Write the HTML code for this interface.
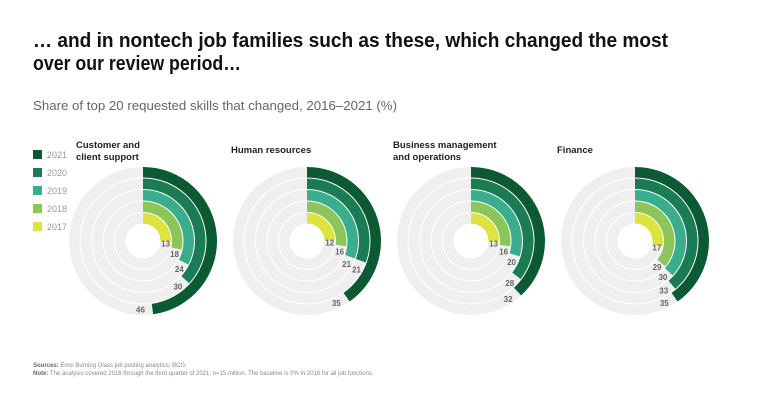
<!DOCTYPE html>
<html><head><meta charset="utf-8"><style>
html,body{margin:0;padding:0;background:#fff;}
svg{display:block;font-family:"Liberation Sans",sans-serif;}
</style></head><body>
<svg id="chart" width="768" height="403" viewBox="0 0 768 403">
<text x="33" y="47" font-size="20" font-weight="bold" fill="#111" textLength="635" lengthAdjust="spacingAndGlyphs">… and in nontech job families such as these, which changed the most</text>
<text x="33" y="70" font-size="20" font-weight="bold" fill="#111" textLength="208" lengthAdjust="spacingAndGlyphs">over our review period…</text>
<text x="33" y="110" font-size="13" fill="#666" textLength="364" lengthAdjust="spacingAndGlyphs">Share of top 20 requested skills that changed, 2016–2021 (%)</text>
<g id="legend"></g>
<g id="panels"></g>
<text x="33" y="367" font-size="6" fill="#888"><tspan font-weight="bold" fill="#666">Sources:</tspan> Emsi Burning Glass job posting analytics; BCG.</text>
<text x="33" y="375" font-size="6" fill="#888"><tspan font-weight="bold" fill="#666">Note:</tspan> The analysis covered 2016 through the third quarter of 2021; n=15 million. The baseline is 0% in 2016 for all job functions.</text>
</svg>
<script>
const years = ["2021","2020","2019","2018","2017"];
const colors = ["#0b5a34","#1b7b55","#3aae8c","#8cc65a","#dde33f"];
const categories = ["Customer and|client support","Human resources","Business management|and operations","Finance"];
// values ordered 2017..2021
const customerValues = [13,18,24,30,46];
const hrValues = [12,16,21,21,35];
const businessValues = [13,16,20,28,32];
const financeValues = [17,29,30,33,35];
const series = [customerValues, hrValues, businessValues, financeValues];

const NS = "http://www.w3.org/2000/svg";
const svg = document.getElementById("chart");
const legend = document.getElementById("legend");
const panels = document.getElementById("panels");
function mk(tag, attrs, parent){const e=document.createElementNS(NS,tag);for(const k in attrs)e.setAttribute(k,attrs[k]);parent.appendChild(e);return e;}

years.forEach((y,i)=>{
  const r = mk("rect",{x:33,y:150+i*18,width:9,height:9,fill:colors[i]},legend);
  
  
  const t = mk("text",{x:47,y:158+i*18,"font-size":9,fill:"#999"},legend);
  t.textContent = y;
  
  
});

function angleScale(v){ return 58 + 2.48*v; } // degrees from 12 o'clock
function pt(cx,cy,r,deg){const a=deg*Math.PI/180;return [cx+r*Math.sin(a), cy-r*Math.cos(a)];}
function arcPath(cx,cy,r0,r1,deg){
  const large = deg>180?1:0;
  const [x1,y1]=pt(cx,cy,r1,0),[x2,y2]=pt(cx,cy,r1,deg),[x3,y3]=pt(cx,cy,r0,deg),[x4,y4]=pt(cx,cy,r0,0);
  return `M${x1},${y1}A${r1},${r1} 0 ${large} 1 ${x2},${y2}L${x3},${y3}A${r0},${r0} 0 ${large} 0 ${x4},${y4}Z`;
}
const centers = [143,307,471,635];
const titleX = [76,231,393,557];
const cy = 241;
const outerR = [74,62.5,51,39.5,28]; // 2021..2017
const ringW = 10.5;

categories.forEach((cat,ci)=>{
  const g = mk("g",{},panels);
  
  
  const lines = cat.split("|");
  const baseY = lines.length===2?148:153;
  lines.forEach((ln,li)=>{
    const t=mk("text",{x:titleX[ci],y:baseY+li*12,"font-size":9.5,"font-weight":"bold",fill:"#222"},g);
    t.textContent=ln;
    
    
  });
  const cx = centers[ci];
  const vals = series[ci];
  for(let k=0;k<5;k++){
    const yi = 4-k; // value index (2017=0)
    const R = outerR[k], r0 = R-ringW;
    const tr = mk("circle",{cx:cx,cy:cy,r:R-ringW/2,fill:"none",stroke:"#efefef","stroke-width":ringW},g);
    
    
    const deg = angleScale(vals[yi]);
    const p = mk("path",{d:arcPath(cx,cy,r0,R,deg),fill:colors[k]},g);
    
    
    const [lx,ly] = pt(cx,cy,R-ringW/2,deg+ (k===4?6:10));
    const t = mk("text",{x:lx,y:ly+3,"font-size":8,"font-weight":"bold",fill:"#666","text-anchor":"middle"},g);
    t.textContent = vals[yi];
    
    
  }
});
</script>
</body></html>
